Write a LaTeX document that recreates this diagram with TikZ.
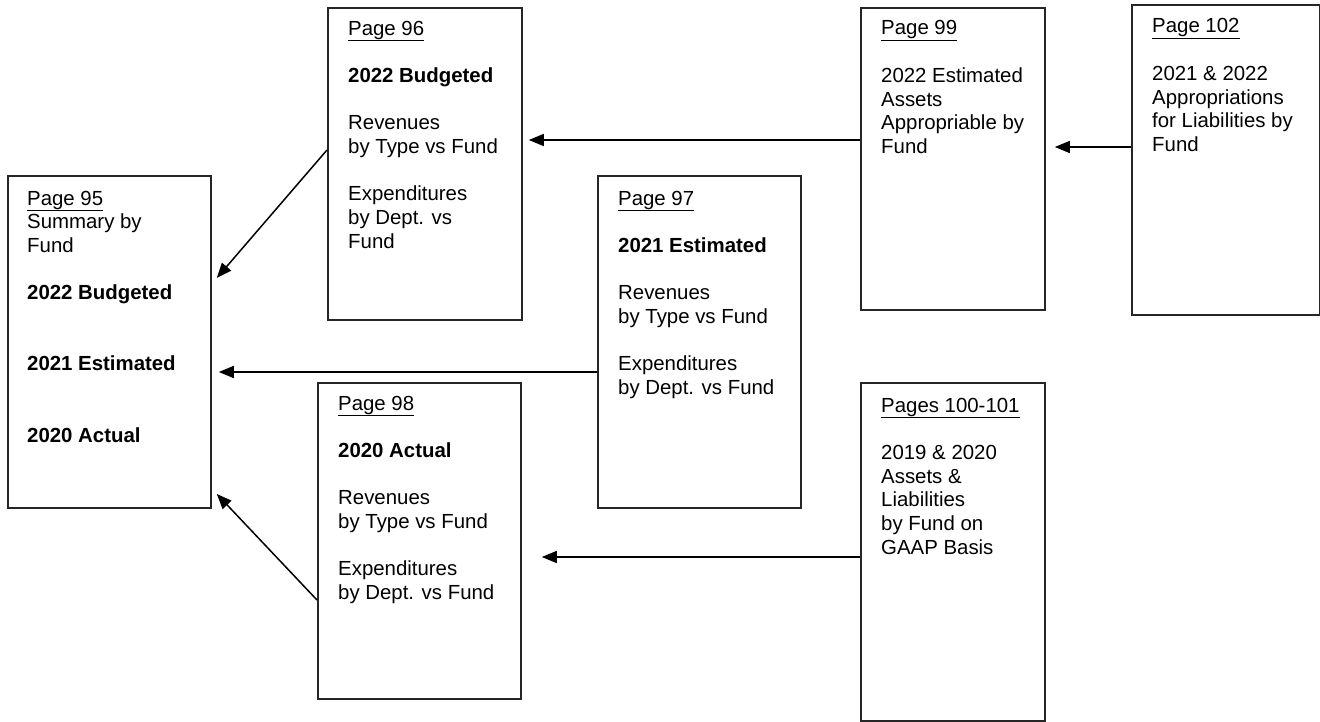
\documentclass[tikz,border=0pt]{standalone}
\usepackage{fontspec}
\setmainfont{Liberation Sans}
\usetikzlibrary{arrows.meta}
\begin{document}
\begin{tikzpicture}[x=1pt,y=-1pt,
  box/.style={draw=black!85, line width=1.8pt, inner sep=0pt, anchor=north west},
  txt/.style={anchor=base west, inner sep=0pt, align=left, font=\fontsize{20.4}{23.7}\selectfont},
  arr/.style={draw=black, line width=1.5pt, -{Triangle[length=15pt,width=12pt]}}]
\useasboundingbox (0,0) rectangle (1320,722);
% boxes
\node[box, minimum width=203pt, minimum height=332pt] (p95) at (7,175) {};
\node[box, minimum width=194pt, minimum height=312pt] (p96) at (327,7) {};
\node[box, minimum width=203pt, minimum height=332pt] (p97) at (597,175) {};
\node[box, minimum width=203pt, minimum height=316pt] (p98) at (317,382) {};
\node[box, minimum width=184pt, minimum height=302pt] (p99) at (860,7) {};
\node[box, minimum width=188pt, minimum height=310pt] (p102) at (1131,4) {};
\node[box, minimum width=184pt, minimum height=338pt] (p100) at (860,382) {};
% texts (anchored at the baseline of their last line)
\node[txt] (t95) at (27,442) {\underline{Page 95}\\Summary by\\Fund\\[23.7pt]\textbf{2022 Budgeted}\\[47.4pt]\textbf{2021 Estimated}\\[47.4pt]\textbf{2020 Actual}};
\node[txt] (t96) at (348,248.3) {\underline{Page 96}\\[23.7pt]\textbf{2022 Budgeted}\\[23.7pt]Revenues\\by Type vs Fund\\[23.7pt]Expenditures\\by Dept. vs\\Fund};
\node[txt] (t97) at (618,394.6) {\underline{Page 97}\\[23.7pt]\textbf{2021 Estimated}\\[23.7pt]Revenues\\by Type vs Fund\\[23.7pt]Expenditures\\by Dept. vs Fund};
\node[txt] (t98) at (338,599.6) {\underline{Page 98}\\[23.7pt]\textbf{2020 Actual}\\[23.7pt]Revenues\\by Type vs Fund\\[23.7pt]Expenditures\\by Dept. vs Fund};
\node[txt] (t99) at (881,153.5) {\underline{Page 99}\\[23.7pt]2022 Estimated\\Assets\\Appropriable by\\Fund};
\node[txt] (t102) at (1152,151.5) {\underline{Page 102}\\[23.7pt]2021 \& 2022\\Appropriations\\for Liabilities by\\Fund};
\node[txt] (t100) at (881,554.2) {\underline{Pages 100-101}\\[23.7pt]2019 \& 2020\\Assets \&\\Liabilities\\by Fund on\\GAAP Basis};
% arrows
\draw[arr] (p96.west |- 0,150) -- ([xshift=5pt]p95.east |- 0,278);
\draw[arr] (p97.west |- 0,372) -- ([xshift=7pt]p95.east |- 0,372);
\draw[arr] (p98.west |- 0,600) -- ([xshift=5pt]p95.east |- 0,494);
\draw[arr] (p99.west |- 0,140) -- ([xshift=6pt]p96.east |- 0,140);
\draw[arr] (p102.west |- 0,147) -- ([xshift=9pt]p99.east |- 0,147);
\draw[arr] (p100.west |- 0,557) -- ([xshift=20pt]p98.east |- 0,557);
\end{tikzpicture}
\end{document}
